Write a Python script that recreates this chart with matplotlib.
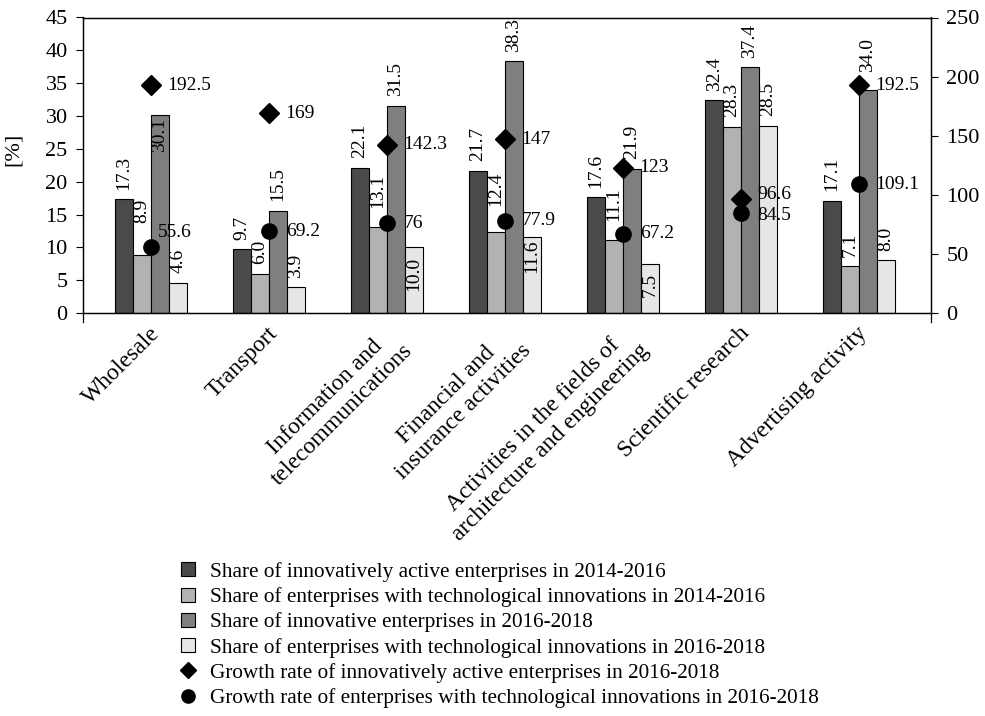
import matplotlib
matplotlib.use("Agg")
import matplotlib.pyplot as plt
import matplotlib.transforms as mtransforms
from matplotlib.lines import Line2D
import numpy as np

plt.rcParams["font.family"] = ["Liberation Serif", "DejaVu Serif"]

# ---- data -------------------------------------------------------------
categories = [
    "Wholesale",
    "Transport",
    "Information and\ntelecommunications",
    "Financial and\ninsurance activities",
    "Activities in the fields of\narchitecture and engineering",
    "Scientific research",
    "Advertising activity",
]
active_2014_2016 = [17.3, 9.7, 22.1, 21.7, 17.6, 32.4, 17.1]
tech_2014_2016 = [8.9, 6.0, 13.1, 12.4, 11.1, 28.3, 7.1]
innovative_2016_2018 = [30.1, 15.5, 31.5, 38.3, 21.9, 37.4, 34.0]
tech_2016_2018 = [4.6, 3.9, 10.0, 11.6, 7.5, 28.5, 8.0]
growth_active = [192.5, 169, 142.3, 147, 123, 96.6, 192.5]
growth_tech = [55.6, 69.2, 76, 77.9, 67.2, 84.5, 109.1]
growth_active_text = ["192.5", "169", "142.3", "147", "123", "96.6", "192.5"]
growth_tech_text = ["55.6", "69.2", "76", "77.9", "67.2", "84.5", "109.1"]

series_labels = [
    "Share of innovatively active enterprises in 2014-2016",
    "Share of enterprises with technological innovations in 2014-2016",
    "Share of innovative enterprises in 2016-2018",
    "Share of enterprises with technological innovations in 2016-2018",
]
growth_labels = [
    "Growth rate of innovatively active enterprises in 2016-2018",
    "Growth rate of enterprises with technological innovations in 2016-2018",
]

# ---- style ------------------------------------------------------------
bar_colors = ["#4a4a4a", "#b2b2b2", "#7f7f7f", "#e6e6e6"]
bar_width = 0.152
value_fs = 14
tick_fs = 16
# extra placement of some bar value labels (points); negative = inside the bar
label_shift = {
    (1, 0): 16, (1, 2): 7, (1, 3): 11.5, (1, 4): 7, (2, 6): 6,
    (2, 0): -1.5, (3, 2): -7, (3, 3): -2, (3, 4): -6.5,
}
# offsets (points) of the growth-rate labels from their markers
active_offsets = [(12, 0)] * 5 + [(12, 3)] + [(12, 0)]
tech_offsets = [(5, 11)] + [(12, 0)] * 4 + [(12, -2)] + [(12, 0)]

W, H = 985, 716
fig = plt.figure(figsize=(W / 100, H / 100), dpi=100)
ax = fig.add_axes([83 / W, 1 - 313 / H, 848 / W, 295.5 / H])
ax2 = ax.twinx()

x = np.arange(len(categories))
series = [active_2014_2016, tech_2014_2016, innovative_2016_2018, tech_2016_2018]
for k, (vals, col) in enumerate(zip(series, bar_colors)):
    xs = x + (k - 1.5) * bar_width
    ax.bar(xs, vals, width=bar_width, color=col, edgecolor="black",
           linewidth=0.8, zorder=2)
    for i, (xi, v) in enumerate(zip(xs, vals)):
        shift = label_shift.get((k, i), 0)
        if shift < 0:
            ax.annotate(f"{v:.1f}", (xi, v), xytext=(0, shift),
                        textcoords="offset points", rotation=90,
                        ha="center", va="top", fontsize=value_fs, zorder=4)
        else:
            ax.annotate(f"{v:.1f}", (xi, v), xytext=(0, 7 + shift),
                        textcoords="offset points", rotation=90,
                        ha="center", va="bottom", fontsize=value_fs, zorder=4)

ax.set_xlim(-0.576, 6.61)
ax.set_ylim(0, 45)
ax.set_yticks(np.arange(0, 46, 5))
ax.set_xticks(x)
ax.set_xticklabels([])
ax.tick_params(axis="x", length=0)
ax.tick_params(axis="y", direction="out", length=5, width=0.8,
               labelsize=tick_fs, pad=6)
ax.set_ylabel("[%]", fontsize=tick_fs)
ax.yaxis.set_label_coords(-0.071, 0.555)

ax2.set_ylim(0, 250)
ax2.set_yticks(np.arange(0, 251, 50))
ax2.tick_params(axis="y", direction="out", length=5, width=0.8,
                labelsize=tick_fs, pad=6)

for a in (ax, ax2):
    for s in a.spines.values():
        s.set_linewidth(0.9)
        s.set_color("black")

# vertical axis lines run a little below the category axis
for xa in (0, 1):
    ax.plot([xa, xa], [0, -0.03], transform=ax.transAxes, color="black",
            lw=0.9, clip_on=False)

# growth-rate markers on the secondary axis
ax2.plot(x, growth_active, linestyle="none", marker="D", ms=10,
         color="black", zorder=5)
ax2.plot(x, growth_tech, linestyle="none", marker="o", ms=11,
         color="black", zorder=5)
for i in range(len(categories)):
    ax2.annotate(growth_active_text[i], (x[i], growth_active[i]),
                 xytext=active_offsets[i], textcoords="offset points",
                 ha="left", va="center", fontsize=value_fs, zorder=6)
    ax2.annotate(growth_tech_text[i], (x[i], growth_tech[i]),
                 xytext=tech_offsets[i], textcoords="offset points",
                 ha="left", va="center", fontsize=value_fs, zorder=6)

# rotated category names
trans = mtransforms.blended_transform_factory(ax.transData, ax.transAxes)
offset = mtransforms.ScaledTranslation(-1.5 / 72, -7 / 72, fig.dpi_scale_trans)
for xi, name in zip(x, categories):
    ax.text(xi, 0, name, transform=trans + offset, rotation=45,
            rotation_mode="anchor", ha="right", va="top",
            multialignment="center", fontsize=tick_fs + 1)

# legend
handles = [Line2D([], [], linestyle="none", marker="s", ms=9.5,
                  markerfacecolor=c, markeredgecolor="black", markeredgewidth=0.8)
           for c in bar_colors]
handles += [Line2D([], [], linestyle="none", marker="D", ms=8, color="black"),
            Line2D([], [], linestyle="none", marker="o", ms=9.5, color="black")]
fig.legend(handles, series_labels + growth_labels, loc="upper left",
           bbox_to_anchor=(177.4 / W, 1 - 562 / H), frameon=False,
           fontsize=15.3, handlelength=1.0, handletextpad=0.54,
           labelspacing=0.25, borderpad=0, borderaxespad=0)

fig.savefig("out.png", dpi=100)
